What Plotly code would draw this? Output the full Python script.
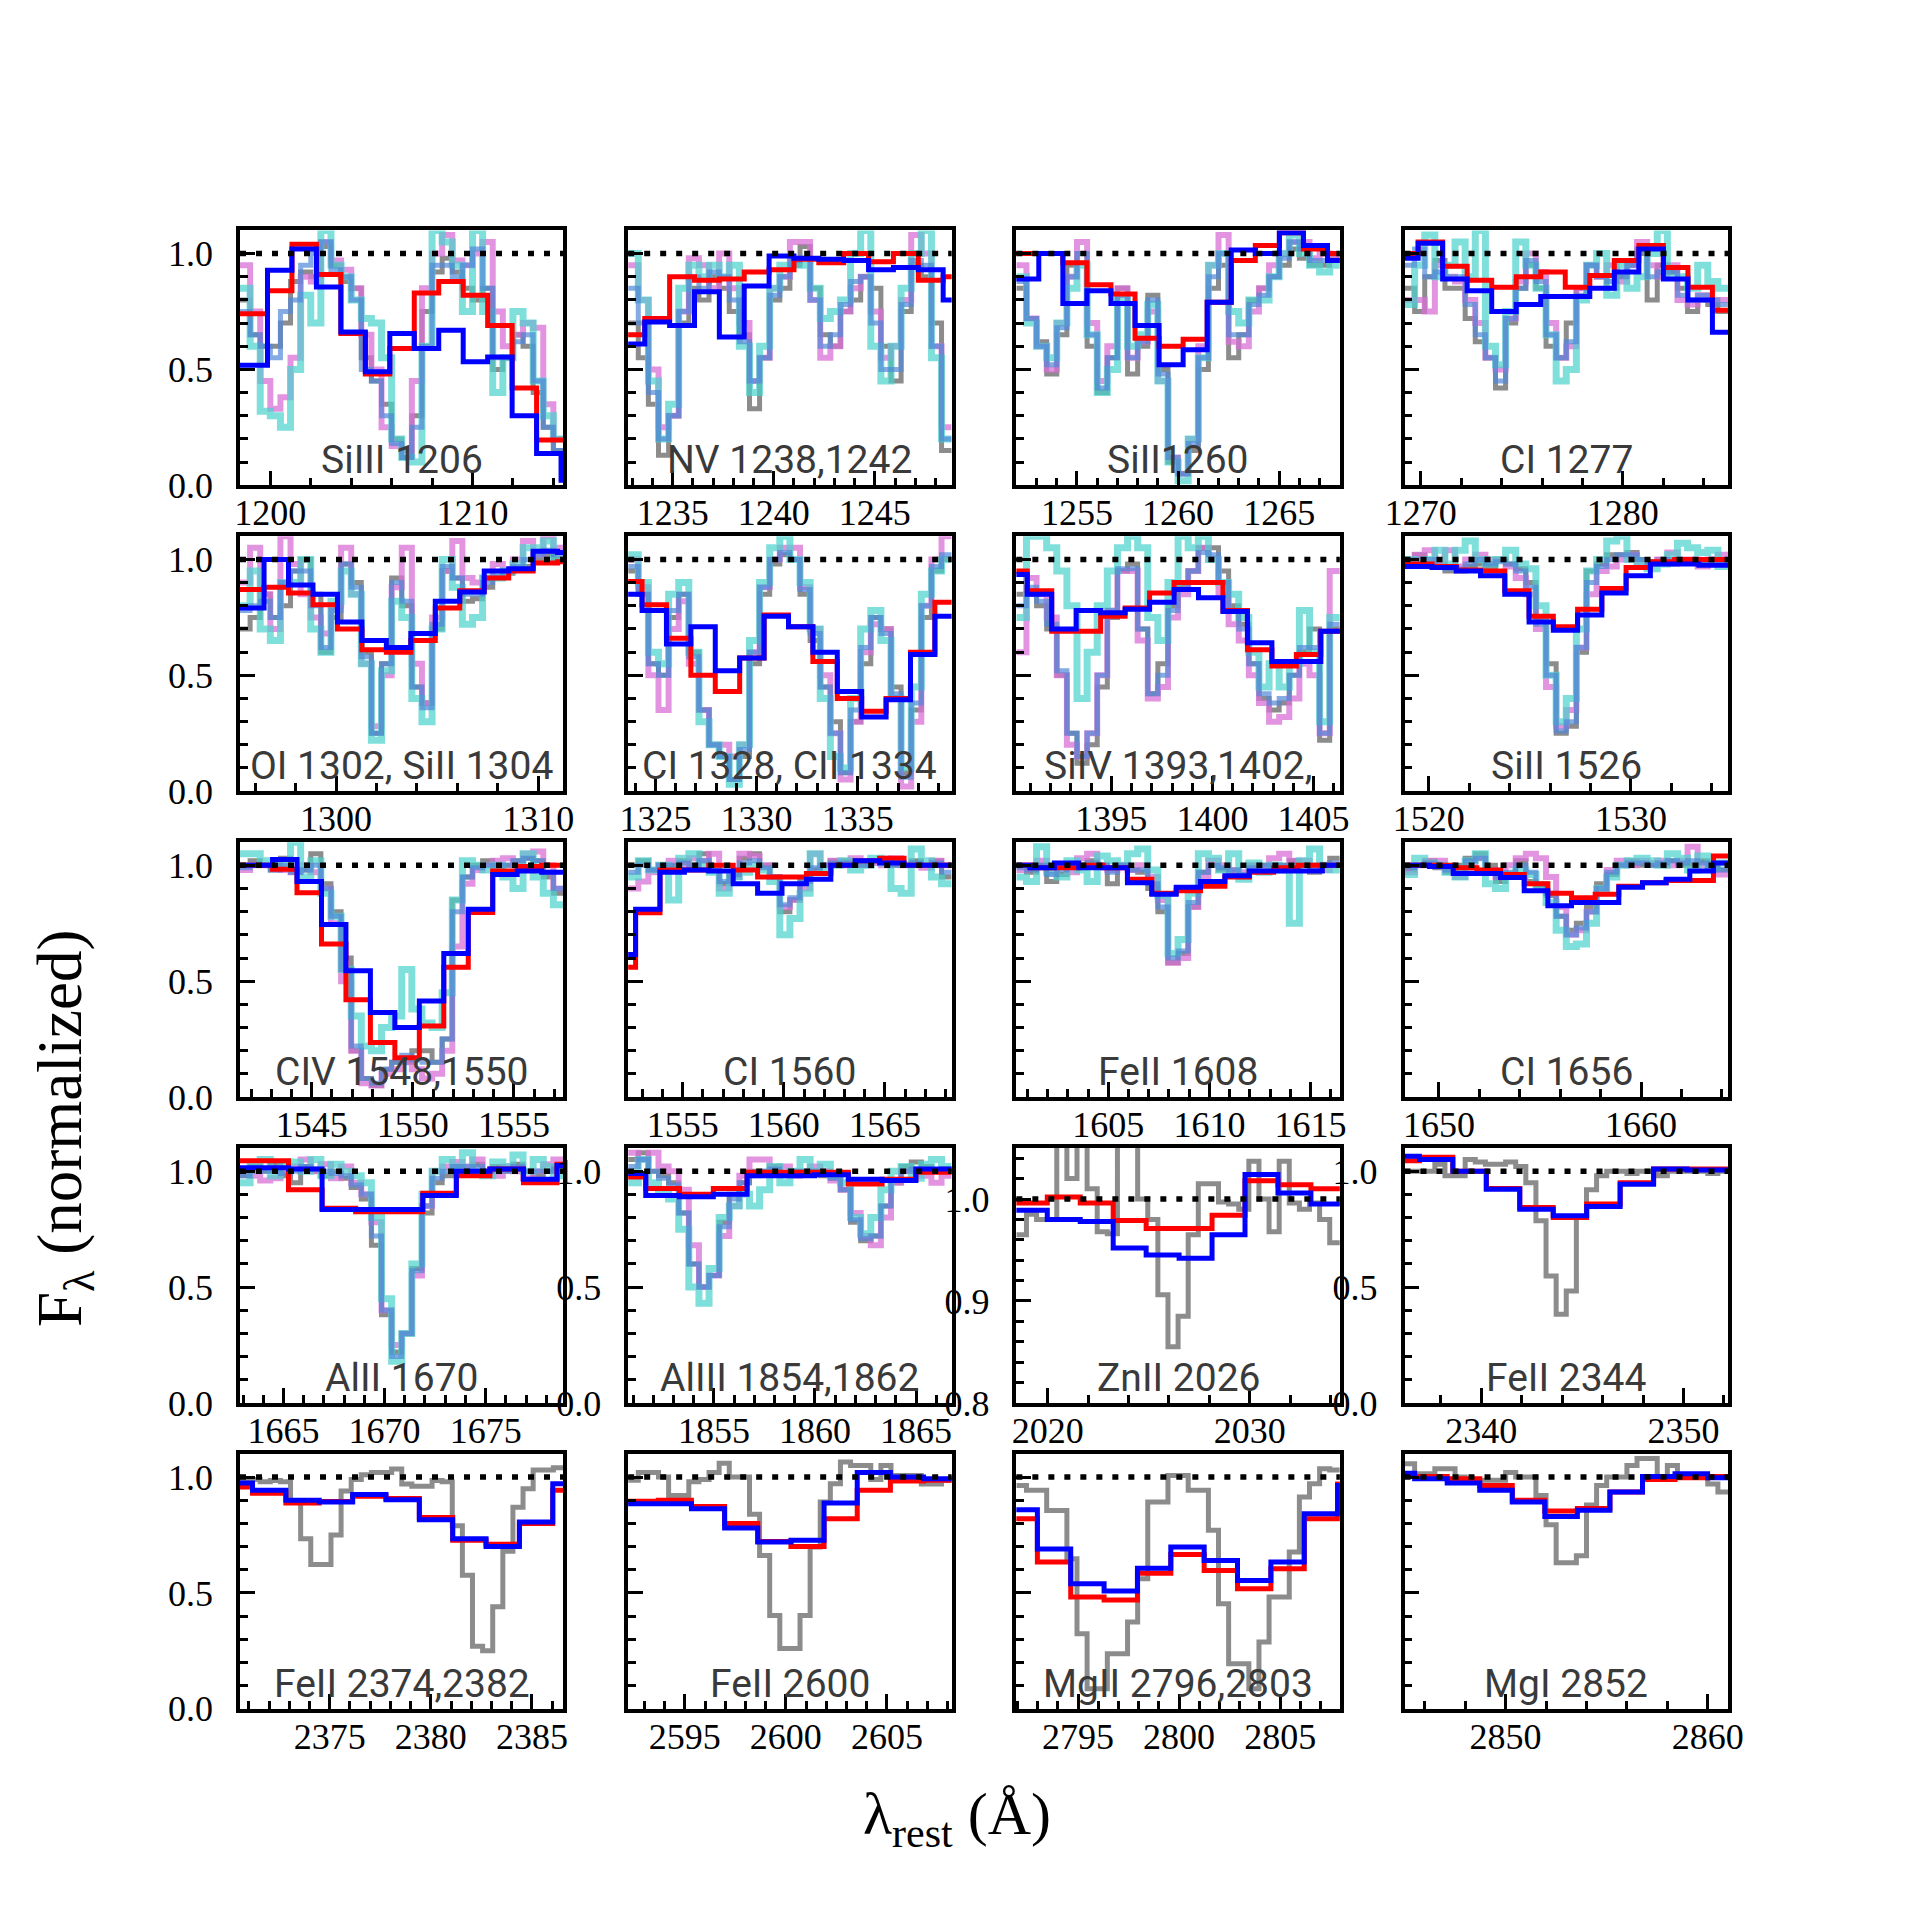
import plotly.graph_objects as go

# ---------------- data ----------------
labels = ["SiIII 1206", "NV 1238,1242", "SiII1260", "CI 1277",
          "OI 1302, SiII 1304", "CI 1328, CII 1334", "SiIV 1393,1402,", "SiII 1526",
          "CIV 1548,1550", "CI 1560", "FeII 1608", "CI 1656",
          "AlII 1670", "AlIII 1854,1862", "ZnII 2026", "FeII 2344",
          "FeII 2374,2382", "FeII 2600", "MgII 2796,2803", "MgI 2852"]
x_lo = [1198.5, 1232.8, 1252.0, 1269.2, 1295.25, 1323.65, 1390.3, 1518.8,
        1541.45, 1552.3, 1600.45, 1648.3, 1662.85, 1850.76, 2018.45, 2336.2,
        2370.56, 2592.2, 2791.95, 2845.0]
x_width = 16.0
x_major = [10, 5, 5, 10, 10, 5, 5, 10, 5, 5, 5, 10, 5, 5, 10, 10, 5, 5, 5, 10]
x_minor = [2, 1, 1, 2, 2, 1, 1, 2, 1, 1, 1, 2, 1, 1, 2, 2, 1, 1, 1, 2]
y_range = [[0, 1.1]] * 14 + [[0.8, 1.05]] + [[0, 1.1]] * 5
y_major = [0.5] * 14 + [0.1] + [0.5] * 5
y_minor = [0.1] * 14 + [0.02] + [0.1] * 5

# high-resolution spectra: 0.5 A bins starting at x_lo
hr_dx = 0.5
# low-resolution spectra: left edge of first bin and bin width
lr_edge0 = [1198.65, 1232.39, 1251.92, 1268.66, 1295.23, 1323.13, 1389.63, 1518.96,
            1541.85, 1551.46, 1599.92, 1648.37, 1661.93, 1849.96, 2018.35, 2335.28,
            2369.53, 2592.05, 2791.34, 2843.89]
lr_dx = [1.21, 1.23, 1.19, 1.213, 1.21, 1.207, 1.21, 1.2, 1.21, 1.207, 1.205, 1.17,
         1.66, 1.67, 1.63, 1.655, 1.65, 1.64, 1.65, 1.61]

gray_01 = [0.80,0.65,0.60,0.60,0.70,0.88,0.92,0.90,1.03,0.95,0.88,0.85,0.55,0.45,0.35,0.20,0.12,0.30,0.75,0.92,0.98,0.92,0.85,0.80,0.85,0.50,0.55,0.65,0.60,0.40,0.25,0.15]
orchid_01 = [0.95,0.75,0.45,0.33,0.38,0.55,0.90,0.88,1.05,0.97,0.93,0.85,0.65,0.50,0.25,0.17,0.15,0.45,0.85,1.00,1.08,0.97,0.95,1.00,1.05,0.75,0.60,0.65,0.70,0.68,0.35,0.20]
turq_01 = [0.85,0.60,0.32,0.30,0.25,0.50,0.82,0.70,1.10,0.95,0.90,0.80,0.72,0.70,0.55,0.20,0.12,0.10,0.60,1.10,1.05,0.95,0.75,1.10,0.75,0.40,0.55,0.75,0.70,0.45,0.30,0.20]
steel_01 = [0.75,0.65,0.60,0.55,0.75,0.80,0.95,1.00,1.05,0.93,0.90,0.80,0.50,0.45,0.30,0.18,0.12,0.25,0.60,0.95,0.95,0.90,0.95,1.02,0.85,0.55,0.55,0.62,0.65,0.45,0.25,0.15]
red_01 = [0.74,0.84,1.04,0.91,0.655,0.48,0.59,0.83,0.88,0.82,0.69,0.42,0.195]
blue_01 = [0.518,0.928,1.02,0.856,0.662,0.49,0.655,0.59,0.669,0.533,0.554,0.30,0.137,0.022]

gray_02 = [0.70,0.55,0.35,0.13,0.30,0.70,0.85,0.80,0.90,0.85,0.75,0.65,0.33,0.55,0.80,0.85,0.95,1.03,0.85,0.65,0.60,0.75,0.80,0.90,0.85,0.60,0.45,0.75,0.95,0.90,0.70,0.15]
orchid_02 = [0.95,0.80,0.50,0.25,0.30,0.75,0.98,0.95,0.85,1.00,0.85,0.70,0.45,0.55,0.85,0.90,1.05,1.05,0.80,0.55,0.60,0.75,0.85,0.90,0.75,0.55,0.60,0.80,1.08,1.00,0.60,0.25]
turq_02 = [1.00,0.80,0.45,0.20,0.35,0.85,0.95,0.90,0.95,0.90,0.95,0.60,0.40,0.60,0.85,0.95,0.95,0.95,0.85,0.72,0.75,0.80,1.00,1.10,0.60,0.45,0.60,0.85,1.00,1.10,0.55,0.20]
steel_02 = [0.85,0.70,0.40,0.20,0.30,0.75,0.90,0.85,0.92,0.90,0.80,0.62,0.45,0.55,0.82,0.90,0.97,0.98,0.80,0.60,0.65,0.78,0.88,0.90,0.70,0.50,0.50,0.78,0.97,0.95,0.60,0.20]
red_02 = [0.65,0.72,0.90,0.885,0.89,0.92,0.93,0.975,0.96,1.0,0.965,1.0,0.885,0.9]
blue_02 = [0.61,0.705,0.69,0.835,0.64,0.86,0.99,0.98,0.975,0.97,0.93,0.94,0.93,0.8]

gray_03 = [0.85,0.72,0.62,0.48,0.65,0.95,1.00,0.60,0.40,0.55,0.85,0.48,0.60,0.82,0.50,0.10,0.05,0.15,0.50,0.85,0.95,0.55,0.65,0.80,0.85,0.90,0.95,1.02,0.98,0.95,0.95,0.98]
orchid_03 = [0.95,0.72,0.60,0.50,0.70,0.90,1.05,0.70,0.45,0.60,0.85,0.55,0.62,0.75,0.45,0.12,0.05,0.20,0.60,0.95,1.08,0.62,0.60,0.75,0.85,0.95,1.00,1.05,1.05,0.98,1.00,0.98]
turq_03 = [0.90,0.70,0.60,0.55,0.70,0.85,0.95,0.65,0.40,0.50,0.80,0.60,0.65,0.78,0.45,0.10,0.02,0.20,0.55,0.95,1.00,0.75,0.70,0.80,0.80,0.90,1.00,1.08,1.00,0.95,0.92,0.95]
steel_03 = [0.88,0.72,0.60,0.52,0.68,0.90,1.00,0.65,0.42,0.55,0.82,0.55,0.62,0.80,0.48,0.12,0.05,0.18,0.55,0.90,1.00,0.65,0.65,0.78,0.82,0.90,0.98,1.05,1.02,0.97,0.97,0.97]
red_03 = [1.0,1.0,0.96,0.865,0.825,0.635,0.6,0.63,0.79,0.97,1.035,1.09,1.02,1.0]
blue_03 = [0.89,1.0,0.785,0.84,0.785,0.69,0.52,0.585,0.79,1.015,1.0,1.09,1.035,0.97]

gray_04 = [0.85,0.75,0.90,0.97,0.85,0.85,0.72,0.62,0.55,0.42,0.70,0.85,0.95,0.85,0.60,0.55,0.70,0.85,0.95,0.90,0.85,0.90,0.95,1.00,0.80,0.95,0.92,0.85,0.75,0.80,0.78,0.75]
orchid_04 = [0.80,0.80,0.75,0.95,0.90,0.88,0.80,0.70,0.55,0.50,0.72,0.88,1.00,0.92,0.70,0.55,0.60,0.85,0.95,0.90,0.95,0.88,0.95,1.05,0.95,0.90,0.95,0.80,0.78,0.82,0.80,0.80]
turq_04 = [0.78,0.95,1.08,0.90,0.95,1.05,0.90,1.10,0.60,0.52,0.75,1.05,0.95,0.85,0.65,0.45,0.50,0.80,0.95,1.00,0.82,0.95,0.85,0.90,1.00,1.10,0.90,0.90,0.85,0.95,0.88,0.85]
steel_04 = [0.95,1.02,0.90,0.92,0.90,0.90,0.78,0.65,0.55,0.45,0.72,0.85,0.97,0.88,0.65,0.55,0.62,0.82,0.95,0.90,0.88,0.90,0.95,1.02,0.90,0.92,0.92,0.82,0.80,0.82,0.80,0.78]
red_04 = [1.0,1.05,0.945,0.885,0.855,0.9,0.92,0.855,0.905,0.97,1.035,0.94,0.855,0.755]
blue_04 = [0.98,1.045,0.89,0.84,0.75,0.78,0.815,0.815,0.85,0.92,1.02,0.89,0.8,0.66]

gray_05 = [0.70,0.75,0.85,0.75,0.80,0.95,1.00,0.85,0.60,0.75,0.98,0.90,0.60,0.25,0.55,0.92,0.80,0.45,0.38,0.70,0.95,0.92,0.82,0.83,0.88,0.92,0.94,0.96,0.97,1.00,1.02,1.00]
orchid_05 = [0.90,1.05,0.85,0.70,1.10,0.98,0.85,0.75,0.68,0.80,1.05,0.85,0.55,0.28,0.50,0.88,1.05,0.55,0.38,0.75,0.95,1.08,0.92,0.90,0.92,0.98,0.95,1.00,1.08,1.02,1.10,1.05]
turq_05 = [0.80,0.95,0.70,0.65,0.90,0.90,1.00,0.70,0.60,0.82,0.95,0.85,0.55,0.22,0.52,0.82,0.75,0.40,0.30,0.70,1.00,0.88,0.72,0.75,0.92,0.92,0.95,0.98,1.05,1.05,1.08,1.00]
steel_05 = [0.78,0.80,0.82,0.75,0.90,0.95,0.95,0.80,0.62,0.78,0.98,0.88,0.58,0.25,0.55,0.90,0.82,0.45,0.36,0.72,0.97,0.92,0.85,0.85,0.90,0.93,0.95,0.97,1.00,1.02,1.04,1.02]
red_05 = [0.87,0.88,0.855,0.805,0.7,0.61,0.6,0.65,0.79,0.865,0.92,0.95,0.985,0.99]
blue_05 = [0.79,1.0,0.89,0.85,0.73,0.65,0.62,0.68,0.82,0.86,0.95,0.96,1.035,1.03]

gray_06 = [0.95,0.85,0.55,0.50,0.75,0.85,0.60,0.35,0.20,0.15,0.05,0.15,0.55,0.85,0.98,1.02,1.00,0.85,0.65,0.45,0.30,0.08,0.30,0.55,0.75,0.70,0.45,0.08,0.35,0.75,0.95,1.00]
orchid_06 = [1.00,0.88,0.50,0.35,0.70,0.82,0.55,0.35,0.20,0.20,0.15,0.20,0.60,0.88,1.00,1.05,1.05,0.88,0.70,0.50,0.25,0.05,0.30,0.60,0.72,0.70,0.40,0.02,0.30,0.80,1.00,1.10]
turq_06 = [1.02,0.90,0.60,0.55,0.85,0.90,0.60,0.30,0.20,0.15,0.03,0.20,0.65,0.90,1.05,1.10,1.00,0.90,0.70,0.40,0.15,0.10,0.40,0.70,0.78,0.65,0.40,0.10,0.45,0.85,0.95,1.00]
steel_06 = [0.97,0.85,0.55,0.50,0.78,0.85,0.58,0.35,0.20,0.15,0.05,0.18,0.60,0.88,1.00,1.03,1.00,0.87,0.68,0.45,0.25,0.08,0.35,0.62,0.75,0.68,0.42,0.06,0.38,0.80,0.97,1.02]
red_06 = [0.905,0.805,0.66,0.5,0.43,0.575,0.76,0.71,0.56,0.4,0.345,0.4,0.6,0.815]
blue_06 = [0.85,0.78,0.635,0.71,0.52,0.575,0.755,0.71,0.6,0.43,0.32,0.395,0.59,0.755]

gray_07 = [0.85,0.85,0.80,0.70,0.50,0.25,0.12,0.20,0.45,0.75,0.95,0.98,0.70,0.42,0.55,0.80,0.88,0.95,1.05,1.05,0.95,0.80,0.72,0.55,0.40,0.35,0.38,0.50,0.60,0.70,0.22,0.70]
orchid_07 = [0.60,0.92,0.85,0.75,0.50,0.20,0.15,0.25,0.50,0.78,0.95,0.95,0.65,0.40,0.45,0.75,0.85,0.95,1.05,1.00,0.85,0.72,0.65,0.50,0.38,0.30,0.32,0.40,0.55,0.50,0.25,0.95]
turq_07 = [0.75,1.10,1.10,1.05,0.95,0.80,0.40,0.60,0.80,0.95,1.05,1.10,1.05,0.75,0.65,0.90,1.10,1.05,1.10,1.00,0.90,0.85,0.75,0.60,0.45,0.55,0.45,0.55,0.78,0.60,0.30,0.75]
steel_07 = [0.80,0.88,0.82,0.72,0.52,0.25,0.15,0.25,0.50,0.78,0.96,0.96,0.70,0.42,0.50,0.78,0.87,0.95,1.03,1.02,0.90,0.78,0.70,0.55,0.42,0.38,0.40,0.50,0.62,0.62,0.25,0.72]
red_07 = [0.95,0.865,0.69,0.69,0.755,0.79,0.855,0.9,0.9,0.78,0.61,0.54,0.59,0.69]
blue_07 = [0.935,0.85,0.7,0.78,0.77,0.785,0.815,0.87,0.835,0.775,0.64,0.56,0.56,0.69]

gray_08 = [1.00,1.02,0.98,0.98,0.95,0.95,0.97,0.98,0.97,1.00,0.98,0.96,0.90,0.75,0.55,0.25,0.28,0.60,0.95,0.98,1.02,1.02,1.03,1.00,0.99,1.00,0.98,1.00,0.99,0.98,0.99,0.99]
orchid_08 = [1.00,1.02,1.04,0.98,1.04,0.97,1.00,1.02,1.00,1.00,0.97,0.92,0.85,0.70,0.45,0.28,0.35,0.62,0.85,0.95,0.97,1.00,1.02,0.99,0.98,1.00,1.03,1.00,1.00,0.97,1.00,1.02]
turq_08 = [1.00,0.99,1.00,1.04,0.98,1.04,1.08,1.00,0.98,1.00,1.04,0.98,0.96,0.80,0.50,0.30,0.40,0.70,0.95,1.00,1.08,1.10,1.00,0.99,0.96,0.98,1.02,1.07,1.05,1.03,1.04,0.97]
steel_08 = [0.98,1.00,1.00,0.97,0.96,0.96,0.98,1.00,0.98,0.99,0.98,0.95,0.88,0.72,0.50,0.26,0.30,0.62,0.90,0.97,1.00,1.02,1.02,1.00,0.98,0.98,1.00,1.00,0.99,0.98,0.99,0.99]
red_08 = [0.98,0.97,0.955,0.95,0.865,0.755,0.71,0.785,0.875,0.965,0.99,1.0,1.0]
blue_08 = [0.97,0.965,0.95,0.93,0.85,0.73,0.695,0.76,0.855,0.93,0.98,0.98,0.975]

gray_09 = [1.00,1.02,1.00,0.98,1.03,0.97,0.98,1.05,0.92,0.80,0.60,0.20,0.08,0.05,0.12,0.15,0.15,0.20,0.20,0.15,0.25,0.85,0.95,1.00,1.02,0.98,1.00,1.02,1.03,1.02,0.95,0.88]
orchid_09 = [0.98,1.00,1.00,1.00,0.98,0.97,1.00,0.97,0.90,0.75,0.50,0.20,0.06,0.05,0.10,0.12,0.15,0.12,0.08,0.10,0.20,0.65,0.92,0.98,1.00,1.02,1.03,1.00,1.05,1.06,1.00,0.90]
turq_09 = [1.05,1.05,1.02,1.00,1.00,1.10,0.95,1.02,0.88,0.78,0.55,0.35,0.22,0.20,0.30,0.35,0.55,0.38,0.32,0.30,0.45,0.85,1.02,1.00,0.98,1.00,0.95,0.90,1.05,0.95,0.88,0.83]
steel_09 = [0.99,1.00,1.00,0.98,1.00,0.97,0.98,1.00,0.90,0.78,0.55,0.22,0.08,0.06,0.12,0.15,0.18,0.16,0.15,0.15,0.25,0.80,0.95,0.99,1.00,1.00,1.00,1.02,1.03,1.02,0.97,0.90]
red_09 = [1.0,0.983,0.882,0.66,0.42,0.235,0.17,0.307,0.56,0.796,0.976,0.995,1.0]
blue_09 = [1.0,1.025,0.93,0.745,0.545,0.365,0.3,0.415,0.62,0.81,0.96,0.975,0.97]

gray_10 = [1.00,1.02,0.98,1.00,1.00,1.02,1.00,1.05,0.98,0.92,0.95,1.03,1.05,1.00,0.95,0.80,0.85,0.93,0.98,1.00,1.02,1.02,1.00,1.00,1.02,1.03,1.00,1.00,1.02,1.00,1.02,0.95]
orchid_10 = [0.90,0.93,0.97,1.00,1.02,1.00,1.03,1.02,1.05,0.90,0.95,1.05,1.04,1.00,0.95,0.82,0.85,0.90,1.05,1.00,1.02,1.00,1.03,1.00,1.01,1.00,1.03,1.00,1.00,0.99,1.02,1.00]
turq_10 = [0.95,1.02,0.98,1.00,0.85,1.03,1.05,1.00,0.97,0.88,0.95,0.97,1.00,0.98,0.93,0.70,0.77,0.88,1.05,0.98,1.00,1.02,0.98,1.00,1.03,1.01,0.90,0.88,1.07,1.02,0.95,0.92]
steel_10 = [0.97,1.00,0.98,1.00,1.00,1.01,1.00,1.02,0.98,0.93,0.96,1.01,1.02,0.99,0.95,0.83,0.86,0.93,0.99,1.00,1.01,1.01,1.00,1.00,1.02,1.02,1.00,1.00,1.01,1.00,1.01,0.97]
red_10 = [0.56,0.795,0.98,0.98,1.0,0.98,0.95,0.95,0.965,1.0,1.02,1.03,1.0,1.0]
blue_10 = [0.615,0.81,0.97,0.98,0.975,0.92,0.88,0.92,0.94,1.0,1.02,1.01,1.0,1.0]

gray_11 = [1.00,0.97,1.00,0.93,0.96,1.00,1.00,1.02,1.00,0.92,1.00,0.98,0.97,0.90,0.80,0.58,0.62,0.82,0.97,1.00,0.98,0.97,0.95,1.00,1.00,0.98,1.00,1.02,1.00,0.97,1.00,1.03]
orchid_11 = [0.98,1.00,1.02,0.98,1.00,0.97,1.03,1.05,1.00,0.98,1.00,0.98,1.00,0.95,0.85,0.58,0.60,0.82,0.95,1.02,1.00,0.98,0.97,1.00,0.99,1.03,1.05,1.02,1.02,1.00,0.98,1.00]
turq_11 = [0.95,0.93,1.08,0.97,0.95,1.02,0.98,0.93,1.04,1.02,1.00,1.05,1.07,0.98,0.87,0.62,0.68,0.88,1.05,1.03,0.98,1.05,0.94,1.01,0.97,1.00,0.98,0.75,1.02,1.07,1.00,0.98]
steel_11 = [0.99,0.98,1.00,0.96,0.98,1.00,1.00,1.01,1.00,0.97,1.00,0.98,0.98,0.92,0.82,0.60,0.63,0.84,0.97,1.00,0.99,0.98,0.96,0.99,1.00,1.00,1.00,1.00,1.00,0.99,1.00,1.01]
red_11 = [1.0,0.99,0.99,1.0,0.99,0.94,0.88,0.89,0.91,0.95,0.97,0.99,1.0,1.0]
blue_11 = [1.0,0.99,1.01,0.99,0.99,0.925,0.875,0.905,0.93,0.955,0.975,0.975,0.975,1.0]

gray_12 = [0.98,1.00,1.02,0.99,0.97,1.00,1.03,1.05,1.00,0.93,0.95,1.02,0.93,0.90,0.87,0.78,0.72,0.75,0.82,0.92,0.96,1.00,1.02,1.00,1.00,1.00,1.02,1.00,1.00,1.02,1.00,0.98]
orchid_12 = [0.97,1.00,1.02,1.02,0.98,0.95,0.98,1.03,0.98,0.95,1.00,1.03,1.05,1.03,0.95,0.82,0.70,0.72,0.80,0.88,0.98,1.02,1.00,1.02,1.01,1.02,1.00,1.02,1.08,1.00,0.98,0.96]
turq_12 = [0.96,1.03,1.01,1.00,0.97,0.95,1.02,1.05,0.92,0.90,0.96,0.98,0.96,0.90,0.84,0.72,0.65,0.66,0.75,0.90,0.95,1.00,1.02,1.03,1.02,1.00,1.05,1.03,0.98,1.04,0.99,1.01]
steel_12 = [0.99,1.00,1.01,1.00,0.98,0.98,1.02,1.03,0.98,0.95,0.97,1.00,0.97,0.92,0.88,0.78,0.70,0.73,0.80,0.90,0.97,1.00,1.01,1.01,1.00,1.01,1.02,1.01,1.02,1.01,0.99,0.98]
red_12 = [1.0,1.0,0.99,0.98,0.96,0.92,0.88,0.86,0.875,0.91,0.925,0.935,0.935,1.04]
blue_12 = [1.0,0.995,0.965,0.965,0.947,0.89,0.825,0.84,0.84,0.905,0.925,0.94,0.975,1.01]

gray_13 = [0.98,1.02,1.00,1.03,0.98,0.95,1.02,1.00,0.98,1.00,0.97,0.93,0.88,0.68,0.38,0.22,0.30,0.58,0.82,0.95,0.98,1.02,1.00,1.03,1.00,1.02,1.00,1.03,1.00,0.98,1.00,1.02]
orchid_13 = [1.00,0.98,0.96,0.97,1.00,1.02,1.05,1.00,1.03,0.97,1.02,0.95,0.90,0.78,0.40,0.25,0.30,0.55,0.85,1.00,1.02,1.04,1.02,1.05,1.00,0.98,1.02,1.00,0.97,1.00,1.03,1.05]
turq_13 = [0.95,1.02,1.05,0.98,1.02,1.04,1.00,1.05,0.98,1.03,1.00,0.98,0.95,0.80,0.45,0.18,0.30,0.60,0.90,1.00,1.05,1.02,1.08,1.00,0.98,1.04,1.02,1.07,1.00,1.05,1.02,0.98]
steel_13 = [0.98,1.00,1.00,1.00,0.99,1.00,1.02,1.01,1.00,0.99,0.98,0.94,0.90,0.72,0.40,0.20,0.30,0.57,0.85,0.97,1.00,1.02,1.02,1.02,1.00,1.01,1.00,1.02,1.00,1.00,1.00,1.01]
red_13 = [1.045,1.045,0.92,0.84,0.825,0.825,0.905,0.98,1.01,0.95,1.03]
blue_13 = [1.015,1.015,1.01,0.835,0.835,0.835,0.895,1.0,1.01,0.965,1.025]

gray_14 = [1.05,1.08,1.00,0.98,0.95,0.82,0.60,0.50,0.55,0.78,0.90,0.95,1.00,1.00,1.02,0.98,1.00,1.00,1.00,0.98,0.97,0.92,0.78,0.70,0.72,0.85,0.95,1.02,1.04,1.02,1.00,1.01]
orchid_14 = [1.08,1.05,1.08,1.02,1.00,0.92,0.68,0.50,0.55,0.72,0.85,0.98,1.05,1.05,1.00,1.02,0.98,0.99,1.02,1.00,0.96,0.92,0.82,0.72,0.68,0.80,0.95,1.00,1.00,0.98,0.95,0.98]
turq_14 = [0.95,1.05,0.95,0.92,0.88,0.75,0.50,0.43,0.58,0.80,0.85,0.90,0.85,0.92,1.02,0.95,1.00,1.05,1.00,1.03,0.98,0.95,0.80,0.73,0.80,0.92,1.00,1.02,0.97,1.03,1.05,1.02]
steel_14 = [1.02,1.05,1.00,0.97,0.94,0.82,0.60,0.50,0.55,0.76,0.88,0.95,0.98,1.00,1.01,0.99,1.00,1.00,1.00,0.99,0.97,0.92,0.79,0.71,0.72,0.85,0.96,1.00,1.01,1.00,1.00,1.01]
red_14 = [0.975,0.925,0.9,0.925,0.995,0.995,0.995,0.945,0.965,0.995,0.995]
blue_14 = [0.99,0.895,0.89,0.9,0.98,0.98,0.985,0.965,0.96,1.01,1.01]

gray_15 = [0.965,0.985,0.98,0.98,1.06,1.02,1.06,1.01,0.968,0.966,1.06,1.06,1.0,0.98,0.906,0.855,0.885,0.965,1.015,1.015,0.997,0.995,0.99,1.037,1.0,0.968,1.037,0.996,0.99,0.996,0.98,0.957]
red_15 = [0.996,1.002,0.996,0.979,0.971,0.971,0.984,1.018,1.014,1.01]
blue_15 = [0.989,0.98,0.978,0.952,0.945,0.942,0.965,1.024,1.006,0.995]

gray_16 = [1.00,1.00,1.00,1.03,0.98,0.98,1.05,1.04,1.03,1.03,1.04,1.02,0.95,0.786,0.548,0.383,0.483,0.80,0.92,0.98,1.00,1.00,0.99,1.00,1.00,0.98,1.00,1.00,1.00,1.00,0.99,1.00]
red_16 = [1.045,1.06,1.0,0.925,0.843,0.8,0.858,0.95,1.01,1.01,1.01]
blue_16 = [1.065,1.05,1.0,0.922,0.836,0.808,0.848,0.944,1.01,1.005,1.005]

gray_17 = [0.985,0.99,0.98,0.985,0.98,0.89,0.734,0.623,0.623,0.75,0.94,0.99,1.01,1.02,1.02,1.035,0.97,0.96,0.96,0.985,0.98,0.79,0.576,0.27,0.25,0.44,0.68,0.87,0.95,1.03,1.03,1.04]
red_17 = [0.957,0.93,0.888,0.895,0.917,0.907,0.825,0.727,0.71,0.8,0.943]
blue_17 = [0.974,0.943,0.9,0.892,0.925,0.902,0.816,0.734,0.7,0.806,0.971]

gray_18 = [0.986,1.02,1.02,1.0,0.92,0.92,0.98,0.99,1.02,1.06,1.0,1.0,0.84,0.662,0.403,0.26,0.26,0.403,0.698,0.892,0.971,1.065,1.05,1.05,0.99,1.05,1.007,1.007,1.007,0.97,0.97,0.985]
red_18 = [0.896,0.9,0.873,0.8,0.722,0.7,0.82,0.943,0.983,0.986]
blue_18 = [0.885,0.885,0.863,0.78,0.72,0.727,0.888,1.02,1.0,0.993]

gray_19 = [0.964,0.943,0.943,0.856,0.856,0.648,0.324,0.087,0.087,0.238,0.238,0.375,0.561,0.892,0.892,1.007,1.007,0.943,0.943,0.77,0.453,0.194,0.194,0.087,0.288,0.482,0.482,0.677,0.914,0.971,1.036,1.03]
red_19 = [0.82,0.633,0.482,0.47,0.585,0.666,0.597,0.518,0.604,0.82,0.97]
blue_19 = [0.859,0.69,0.54,0.508,0.607,0.698,0.64,0.554,0.633,0.842,0.964]

gray_20 = [1.057,1.014,1.014,1.036,1.036,1.0,0.986,0.986,0.986,0.986,1.02,1.0,1.0,0.92,0.794,0.63,0.63,0.66,0.88,0.964,1.0,1.0,1.05,1.08,1.08,0.993,1.05,1.0,1.0,1.0,0.97,0.936]
red_20 = [1.007,1.003,0.993,0.964,0.9,0.854,0.864,0.936,0.989,0.997,1.003]
blue_20 = [1.017,0.993,0.974,0.943,0.892,0.83,0.857,0.936,1.003,1.014,0.997]

gray_all = [gray_01, gray_02, gray_03, gray_04, gray_05, gray_06, gray_07, gray_08, gray_09, gray_10,
            gray_11, gray_12, gray_13, gray_14, gray_15, gray_16, gray_17, gray_18, gray_19, gray_20]
orchid_all = [orchid_01, orchid_02, orchid_03, orchid_04, orchid_05, orchid_06, orchid_07, orchid_08,
              orchid_09, orchid_10, orchid_11, orchid_12, orchid_13, orchid_14] + [None] * 6
turq_all = [turq_01, turq_02, turq_03, turq_04, turq_05, turq_06, turq_07, turq_08,
            turq_09, turq_10, turq_11, turq_12, turq_13, turq_14] + [None] * 6
steel_all = [steel_01, steel_02, steel_03, steel_04, steel_05, steel_06, steel_07, steel_08,
             steel_09, steel_10, steel_11, steel_12, steel_13, steel_14] + [None] * 6
red_all = [red_01, red_02, red_03, red_04, red_05, red_06, red_07, red_08, red_09, red_10,
           red_11, red_12, red_13, red_14, red_15, red_16, red_17, red_18, red_19, red_20]
blue_all = [blue_01, blue_02, blue_03, blue_04, blue_05, blue_06, blue_07, blue_08, blue_09, blue_10,
            blue_11, blue_12, blue_13, blue_14, blue_15, blue_16, blue_17, blue_18, blue_19, blue_20]

# ---------------- figure ----------------
SERIF = "Liberation Serif"
SANS = "Roboto"
W = H = 1920
left, right, bottom, top = 0.125, 0.9, 0.11, 0.88
pw = (right - left) / (4 + 3 * 0.2)
ph = (top - bottom) / (5 + 4 * 0.2)


def step_xy(edge0, dx, vals, lo, hi):
    xs = [edge0 + dx * k for k in range(len(vals) + 1)]
    ys = list(vals) + [vals[-1]]
    xs[0] = min(xs[0], lo)
    xs[-1] = max(xs[-1], hi)
    return xs, ys


fig = go.Figure()
layout = dict(template="none", width=W, height=H, autosize=False,
              margin=dict(l=0, r=0, t=0, b=0, pad=0),
              paper_bgcolor="white", plot_bgcolor="white", showlegend=False)
annotations = []
shapes = []

styles = [
    ("gray", "rgba(128,128,128,0.9)", 5),
    ("orchid", "rgba(218,112,214,0.75)", 6),
    ("turq", "rgba(72,209,204,0.7)", 7),
    ("steel", "rgba(80,135,215,0.7)", 5),
]

for i in range(20):
    n = i + 1
    r, c = divmod(i, 4)
    xs_key = "x" if n == 1 else f"x{n}"
    ys_key = "y" if n == 1 else f"y{n}"
    lo = x_lo[i]
    hi = lo + x_width

    series = {"gray": gray_all[i], "orchid": orchid_all[i],
              "turq": turq_all[i], "steel": steel_all[i]}
    for name, col, lw in styles:
        vals = series[name]
        if vals is None:
            continue
        xs, ys = step_xy(lo, hr_dx, vals, lo, hi)
        fig.add_trace(go.Scatter(x=xs, y=ys, mode="lines", line=dict(color=col, width=lw, shape="hv"),
                                 xaxis=xs_key, yaxis=ys_key, hoverinfo="skip"))
    for vals, col in ((red_all[i], "#ff0000"), (blue_all[i], "#0000ff")):
        xs, ys = step_xy(lr_edge0[i], lr_dx[i], vals, lo, hi)
        fig.add_trace(go.Scatter(x=xs, y=ys, mode="lines", line=dict(color=col, width=5, shape="hv"),
                                 xaxis=xs_key, yaxis=ys_key, hoverinfo="skip"))

    x0 = left + c * 1.2 * pw
    y1 = top - r * 1.2 * ph
    y0 = y1 - ph
    show_y = (c == 0) or (r == 3)
    layout["xaxis" if n == 1 else f"xaxis{n}"] = dict(
        domain=[x0, x0 + pw], anchor=ys_key, range=[lo, hi], automargin=False,
        tickmode="linear", tick0=0, dtick=x_major[i],
        ticks="inside", ticklen=15, tickwidth=3, tickcolor="black",
        minor=dict(ticks="inside", ticklen=8, tickwidth=2.5, tickcolor="black",
                   dtick=x_minor[i], tick0=0, showgrid=False),
        showline=True, linecolor="black", linewidth=3.5, mirror=True,
        showgrid=False, zeroline=False,
        tickfont=dict(family=SERIF, size=36, color="black"),
        ticklabelstandoff=-7)
    ylo, yhi = y_range[i]
    layout["yaxis" if n == 1 else f"yaxis{n}"] = dict(
        domain=[y0, y1], anchor=xs_key, range=[ylo, yhi], automargin=False,
        tickmode="linear", tick0=ylo, dtick=y_major[i], tickformat=".1f",
        ticks="inside", ticklen=15, tickwidth=3, tickcolor="black",
        minor=dict(ticks="inside", ticklen=8, tickwidth=2.5, tickcolor="black",
                   dtick=y_minor[i], tick0=ylo, showgrid=False),
        showline=True, linecolor="black", linewidth=3.5, mirror=True,
        showgrid=False, zeroline=False, showticklabels=show_y,
        tickfont=dict(family=SERIF, size=36, color="black"),
        ticklabelstandoff=16)

    dref = "x domain" if n == 1 else f"x{n} domain"
    shapes.append(dict(type="line", xref=dref, yref=ys_key, x0=0, x1=1, y0=1.0, y1=1.0,
                       line=dict(color="black", width=5.5, dash="6px,10px"), layer="above"))
    annotations.append(dict(text=labels[i], xref=dref,
                            yref=("y domain" if n == 1 else f"y{n} domain"),
                            x=0.5, y=0.0, xanchor="center", yanchor="bottom", showarrow=False,
                            font=dict(family=SANS, size=39, color="#3a3a3a")))

annotations.append(dict(text="F<sub>λ</sub> (normalized)", xref="paper", yref="paper",
                        x=64 / W, y=1 - 1128 / H, xanchor="center", yanchor="middle",
                        textangle=-90, showarrow=False,
                        font=dict(family=SERIF, size=63, color="black")))
annotations.append(dict(text="λ<sub>rest</sub> (Å)", xref="paper", yref="paper",
                        x=957 / W, y=1 - 1818 / H, xanchor="center", yanchor="middle",
                        showarrow=False, font=dict(family=SERIF, size=60, color="black")))

layout["annotations"] = annotations
layout["shapes"] = shapes
fig.update_layout(**layout)
fig.write_html("out.html")
